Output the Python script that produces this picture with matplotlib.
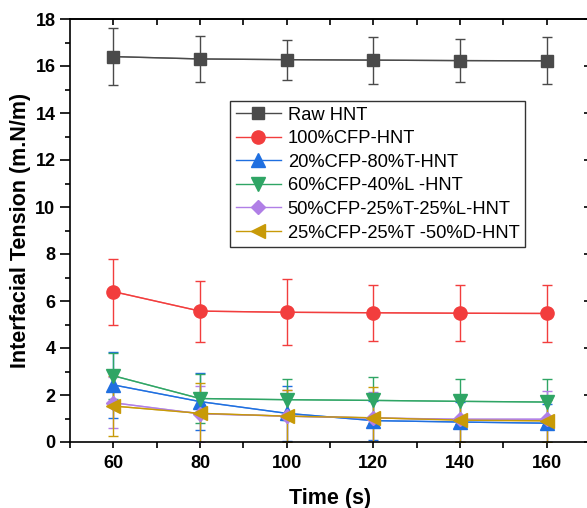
import numpy as np
import matplotlib
matplotlib.use("Agg")
import matplotlib.pyplot as plt
from matplotlib.ticker import MultipleLocator, FixedLocator

plt.rcParams["font.family"] = ["Liberation Sans", "DejaVu Sans"]

# ── data ─────────────────────────────────────────────────────────────────────
time = [60, 80, 100, 120, 140, 160]

labels = ["Raw HNT", "100%CFP-HNT", "20%CFP-80%T-HNT", "60%CFP-40%L -HNT",
          "50%CFP-25%T-25%L-HNT", "25%CFP-25%T -50%D-HNT"]

raw_hnt = [16.40, 16.30, 16.27, 16.25, 16.23, 16.22]
raw_err = [1.20, 0.98, 0.85, 1.00, 0.92, 1.00]

cfp100 = [6.40, 5.57, 5.52, 5.50, 5.48, 5.47]
cfp100_err = [1.40, 1.30, 1.40, 1.20, 1.20, 1.20]

cfp20_t80 = [2.43, 1.72, 1.22, 0.91, 0.85, 0.80]
cfp20_t80_err = [1.42, 1.20, 1.18, 0.82, 0.85, 0.80]

cfp60_l40 = [2.82, 1.85, 1.80, 1.77, 1.73, 1.70]
cfp60_l40_err = [0.98, 1.05, 0.87, 0.98, 0.96, 0.97]

cfp50_t25_l25 = [1.67, 1.20, 1.10, 1.02, 0.97, 0.97]
cfp50_t25_l25_err = [1.08, 1.20, 1.10, 1.10, 0.97, 1.18]

cfp25_t25_d50 = [1.53, 1.22, 1.10, 1.03, 0.93, 0.90]
cfp25_t25_d50_err = [1.27, 1.30, 1.10, 1.30, 0.93, 0.90]

series = [raw_hnt, cfp100, cfp20_t80, cfp60_l40, cfp50_t25_l25, cfp25_t25_d50]
errors = [raw_err, cfp100_err, cfp20_t80_err, cfp60_l40_err,
          cfp50_t25_l25_err, cfp25_t25_d50_err]

# ── styles ───────────────────────────────────────────────────────────────────
colors  = ["#4a4a4a", "#f23d3d", "#1f6fe0", "#2fa565", "#b07fe6", "#c89a08"]
markers = ["s", "o", "^", "v", "D", "<"]
msizes  = [8.5, 9.5, 9.5, 9.5, 7.5, 9.5]

fig = plt.figure(figsize=(5.87, 5.08), dpi=100)
ax = fig.add_axes([70 / 587, 66 / 508, 520 / 587, 423 / 508])

for ys, es, lab, c, m, ms in zip(series, errors, labels, colors, markers, msizes):
    ax.errorbar(time, ys, yerr=es, color=c, ecolor=c, elinewidth=1.0,
                capsize=3.5, capthick=1.0, linewidth=1.0, alpha=1.0,
                marker="none", label="_nolegend_", zorder=2)
    ax.plot(time, ys, color=c, linewidth=1.0, alpha=0.7, zorder=2)
    ax.plot(time, ys, linestyle="none", marker=m, markersize=ms,
            color=c, markeredgecolor=c, zorder=3)

# legend handles
handles = [plt.Line2D([], [], color=c, linewidth=1.0, marker=m, markersize=ms,
                      markeredgecolor=c)
           for c, m, ms in zip(colors, markers, msizes)]
leg = ax.legend(handles, labels, loc="upper left",
                bbox_to_anchor=(160 / 520, (442 - 101) / 423),
                fontsize=13.2, frameon=True, fancybox=False, framealpha=1,
                edgecolor="#333333", handlelength=2.5, handletextpad=0.35,
                labelspacing=0.36, borderpad=0.3, borderaxespad=0)
leg.get_frame().set_linewidth(1.0)

ax.set_xlim(50, 170)
ax.set_ylim(0, 18)
ax.xaxis.set_major_locator(FixedLocator(time))
ax.xaxis.set_minor_locator(FixedLocator([50, 70, 90, 110, 130, 150, 170]))
ax.yaxis.set_major_locator(MultipleLocator(2))
ax.yaxis.set_minor_locator(MultipleLocator(1))

ax.tick_params(axis="both", which="both", direction="out", width=1.2,
               labelsize=13, top=False, right=False)
ax.tick_params(axis="y", which="major", length=7)
ax.tick_params(axis="y", which="minor", length=3.5)
ax.tick_params(axis="x", which="both", length=4, pad=5)
for lab in ax.get_xticklabels() + ax.get_yticklabels():
    lab.set_fontweight("bold")

# mirrored ticks on top / right pointing inward
top = ax.secondary_xaxis("top")
top.xaxis.set_major_locator(FixedLocator(time))
top.xaxis.set_minor_locator(FixedLocator([70, 90, 110, 130, 150]))
top.tick_params(which="both", direction="in", length=4, width=1.2,
                labeltop=False)
right = ax.secondary_yaxis("right")
right.yaxis.set_major_locator(MultipleLocator(2))
right.tick_params(which="both", direction="in", length=4, width=1.2,
                  labelright=False)

for sp in ax.spines.values():
    sp.set_linewidth(1.2)
for sp in list(top.spines.values()) + list(right.spines.values()):
    sp.set_linewidth(1.2)

ax.set_xlabel("Time (s)", fontsize=15.5, fontweight="bold", labelpad=12)
ax.set_ylabel("Interfacial Tension (m.N/m)", fontsize=15.5, fontweight="bold",
              labelpad=3)

fig.savefig("out.png", dpi=100)
